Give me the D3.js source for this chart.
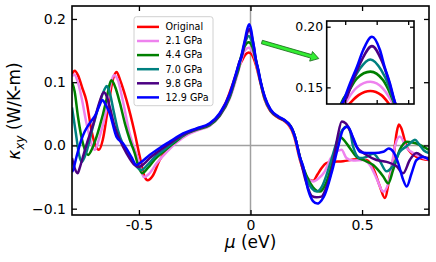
<!DOCTYPE html>
<html>
<head>
<meta charset="utf-8">
<script src="https://cdn.jsdelivr.net/npm/d3@7"></script>
<style>
  body { margin: 0; background: #fff; }
  svg { display: block; font-family: "DejaVu Sans", sans-serif; }
</style>
</head>
<body>
<svg width="436" height="262"></svg>
<script>
// series: [mu (eV), kappa_xy (W/K-m)]
var original = [[-0.800,0.112],[-0.788,0.118],[-0.772,0.110],[-0.755,0.092],[-0.735,0.070],[-0.713,0.024],[-0.694,-0.001],[-0.679,-0.007],[-0.662,0.009],[-0.640,0.056],[-0.617,0.104],[-0.600,0.116],[-0.585,0.104],[-0.556,0.072],[-0.519,0.020],[-0.496,-0.018],[-0.474,-0.050],[-0.461,-0.055],[-0.438,-0.048],[-0.407,-0.023],[-0.362,-0.003],[-0.317,0.012],[-0.272,0.021],[-0.220,0.027],[-0.190,0.031],[-0.152,0.043],[-0.108,0.070],[-0.078,0.099],[-0.050,0.126],[-0.034,0.137],[-0.023,0.1436],[-0.008,0.147],[0.006,0.1436],[0.015,0.137],[0.030,0.120],[0.045,0.098],[0.064,0.072],[0.090,0.054],[0.124,0.044],[0.150,0.039],[0.169,0.033],[0.185,0.024],[0.199,0.010],[0.221,-0.022],[0.251,-0.050],[0.267,-0.055],[0.281,-0.056],[0.300,-0.046],[0.318,-0.036],[0.340,-0.028],[0.363,-0.026],[0.415,-0.025],[0.475,-0.022],[0.520,-0.023],[0.550,-0.036],[0.580,-0.065],[0.602,-0.083],[0.625,-0.047],[0.639,-0.023],[0.655,0.020],[0.665,0.033],[0.675,0.028],[0.700,-0.002],[0.744,-0.018],[0.800,-0.023]];
var p21 = [[-0.800,0.109],[-0.790,0.112],[-0.774,0.100],[-0.758,0.077],[-0.735,0.035],[-0.713,0.003],[-0.698,-0.007],[-0.676,0.014],[-0.646,0.056],[-0.626,0.098],[-0.612,0.111],[-0.595,0.104],[-0.573,0.072],[-0.541,0.018],[-0.505,-0.020],[-0.478,-0.050],[-0.455,-0.045],[-0.420,-0.028],[-0.375,-0.010],[-0.330,0.005],[-0.281,0.017],[-0.227,0.025],[-0.183,0.031],[-0.138,0.046],[-0.093,0.074],[-0.065,0.104],[-0.047,0.127],[-0.036,0.141],[-0.025,0.150],[-0.008,0.1546],[0.008,0.149],[0.018,0.1395],[0.032,0.120],[0.045,0.099],[0.064,0.073],[0.090,0.055],[0.124,0.045],[0.150,0.040],[0.169,0.034],[0.185,0.026],[0.199,0.012],[0.221,-0.020],[0.251,-0.049],[0.281,-0.057],[0.306,-0.052],[0.333,-0.041],[0.360,-0.020],[0.378,-0.012],[0.408,-0.007],[0.430,-0.020],[0.460,-0.024],[0.505,-0.023],[0.535,-0.031],[0.565,-0.052],[0.595,-0.073],[0.625,-0.049],[0.647,-0.002],[0.669,0.014],[0.700,-0.004],[0.729,-0.012],[0.774,-0.020],[0.800,-0.022]];
var p44 = [[-0.800,0.100],[-0.788,0.085],[-0.773,0.045],[-0.751,0.003],[-0.728,-0.015],[-0.706,-0.002],[-0.676,0.030],[-0.646,0.072],[-0.631,0.097],[-0.623,0.103],[-0.606,0.092],[-0.586,0.068],[-0.563,0.035],[-0.541,0.009],[-0.519,-0.012],[-0.505,-0.030],[-0.486,-0.044],[-0.461,-0.036],[-0.429,-0.022],[-0.384,-0.008],[-0.339,0.005],[-0.294,0.017],[-0.241,0.025],[-0.183,0.032],[-0.138,0.047],[-0.093,0.076],[-0.065,0.108],[-0.050,0.126],[-0.045,0.137],[-0.036,0.1464],[-0.025,0.1574],[-0.008,0.163],[0.008,0.156],[0.017,0.145],[0.022,0.137],[0.035,0.118],[0.045,0.100],[0.064,0.074],[0.090,0.055],[0.124,0.045],[0.150,0.040],[0.169,0.035],[0.185,0.027],[0.199,0.014],[0.221,-0.018],[0.251,-0.048],[0.280,-0.066],[0.311,-0.073],[0.338,-0.060],[0.369,-0.025],[0.400,0.014],[0.415,0.010],[0.445,-0.004],[0.475,-0.018],[0.505,-0.023],[0.550,-0.031],[0.595,-0.049],[0.617,-0.060],[0.639,-0.039],[0.669,-0.007],[0.700,0.006],[0.744,0.003],[0.774,-0.002],[0.800,-0.007]];
var p70 = [[-0.800,0.060],[-0.783,0.020],[-0.768,-0.015],[-0.757,-0.026],[-0.735,-0.010],[-0.706,0.030],[-0.676,0.067],[-0.655,0.088],[-0.644,0.094],[-0.630,0.082],[-0.612,0.052],[-0.594,0.024],[-0.571,0.001],[-0.541,-0.018],[-0.514,-0.032],[-0.489,-0.039],[-0.465,-0.032],[-0.429,-0.018],[-0.384,-0.006],[-0.339,0.007],[-0.294,0.018],[-0.241,0.026],[-0.183,0.033],[-0.138,0.048],[-0.093,0.078],[-0.065,0.110],[-0.050,0.130],[-0.040,0.141],[-0.032,0.153],[-0.021,0.1657],[-0.008,0.173],[0.006,0.164],[0.015,0.152],[0.021,0.140],[0.033,0.120],[0.045,0.101],[0.064,0.075],[0.090,0.055],[0.124,0.045],[0.150,0.040],[0.169,0.035],[0.185,0.027],[0.199,0.014],[0.221,-0.018],[0.248,-0.050],[0.275,-0.068],[0.297,-0.073],[0.320,-0.065],[0.356,-0.030],[0.391,0.010],[0.430,0.030],[0.445,0.024],[0.460,-0.002],[0.490,-0.020],[0.520,-0.018],[0.550,-0.013],[0.580,-0.025],[0.610,-0.041],[0.638,-0.032],[0.669,-0.010],[0.701,-0.001],[0.723,0.006],[0.737,0.009],[0.755,0.002],[0.777,-0.008],[0.800,-0.012]];
var p98 = [[-0.800,-0.020],[-0.788,-0.036],[-0.775,-0.044],[-0.765,-0.035],[-0.751,-0.018],[-0.728,0.009],[-0.706,0.032],[-0.680,0.065],[-0.657,0.084],[-0.645,0.078],[-0.631,0.061],[-0.609,0.030],[-0.586,0.009],[-0.556,-0.012],[-0.519,-0.031],[-0.501,-0.034],[-0.474,-0.028],[-0.452,-0.020],[-0.407,-0.008],[-0.362,0.003],[-0.302,0.017],[-0.242,0.026],[-0.183,0.034],[-0.138,0.049],[-0.093,0.080],[-0.065,0.112],[-0.050,0.132],[-0.038,0.142],[-0.030,0.156],[-0.019,0.1725],[-0.006,0.184],[0.006,0.1725],[0.015,0.156],[0.021,0.142],[0.033,0.121],[0.045,0.101],[0.064,0.076],[0.090,0.056],[0.124,0.045],[0.150,0.040],[0.169,0.035],[0.185,0.027],[0.199,0.014],[0.221,-0.018],[0.251,-0.060],[0.275,-0.080],[0.296,-0.082],[0.318,-0.081],[0.338,-0.068],[0.369,-0.030],[0.391,0.015],[0.409,0.038],[0.427,0.035],[0.445,0.024],[0.475,-0.002],[0.520,-0.015],[0.565,-0.023],[0.610,-0.026],[0.655,-0.033],[0.684,-0.044],[0.714,-0.023],[0.744,-0.012],[0.774,-0.018],[0.800,-0.020]];
var p129 = [[-0.800,-0.042],[-0.795,-0.039],[-0.780,-0.018],[-0.758,0.009],[-0.743,0.022],[-0.721,0.035],[-0.691,0.051],[-0.675,0.065],[-0.664,0.072],[-0.650,0.065],[-0.631,0.051],[-0.601,0.014],[-0.571,0.003],[-0.534,-0.018],[-0.511,-0.031],[-0.496,-0.028],[-0.452,-0.015],[-0.407,-0.004],[-0.362,0.006],[-0.302,0.019],[-0.242,0.027],[-0.183,0.035],[-0.138,0.051],[-0.093,0.082],[-0.065,0.114],[-0.050,0.131],[-0.042,0.1395],[-0.034,0.153],[-0.025,0.167],[-0.017,0.181],[-0.006,0.1917],[0.004,0.181],[0.010,0.167],[0.017,0.153],[0.023,0.138],[0.035,0.120],[0.045,0.102],[0.064,0.077],[0.090,0.057],[0.124,0.046],[0.150,0.041],[0.169,0.035],[0.185,0.027],[0.199,0.014],[0.221,-0.018],[0.236,-0.033],[0.258,-0.070],[0.280,-0.088],[0.300,-0.092],[0.318,-0.087],[0.333,-0.078],[0.363,-0.044],[0.393,-0.002],[0.415,0.025],[0.436,0.030],[0.460,0.012],[0.490,-0.010],[0.520,-0.012],[0.557,-0.012],[0.595,-0.010],[0.620,-0.005],[0.640,-0.010],[0.662,-0.028],[0.684,-0.054],[0.700,-0.065],[0.722,-0.044],[0.744,-0.023],[0.774,-0.018],[0.800,-0.023]];

var seriesNames = ["Original", "2.1 GPa", "4.4 GPa", "7.0 GPa", "9.8 GPa", "12.9 GPa"];
var seriesData = [original, p21, p44, p70, p98, p129];
var seriesColors = ["red", "violet", "green", "teal", "indigo", "blue"];

var xTicks = [-0.5, 0, 0.5];
var xTickLabels = ["-0.5", "0", "0.5"];
var yTicks = [-0.1, 0, 0.1, 0.2];
var yTickLabels = ["\u22120.1", "0.0", "0.1", "0.2"];
var insetXTicks = [-0.04, 0, 0.04];
var insetYTicks = [0.15, 0.20];
var insetYTickLabels = ["0.15", "0.20"];
// arrow from main peak to inset, in data units
var arrowFrom = [0.051, 0.1635];
var arrowTo = [0.306, 0.1374];

var margin = {top: 6, right: 7, bottom: 47, left: 72};
var width = 436 - margin.left - margin.right;
var height = 262 - margin.top - margin.bottom;

var svg = d3.select('svg');
svg.append('rect').attr('width', 436).attr('height', 262).attr('fill', '#fff');

var xScale = d3.scaleLinear().domain([-0.8, 0.8]).range([0, width]);
var yScale = d3.scaleLinear().domain([-0.11, 0.2205]).range([height, 0]);

var defs = svg.append('defs');
defs.append('clipPath').attr('id', 'clipMain')
  .append('rect').attr('width', width).attr('height', height);

var g = svg.append('g')
  .attr('transform', 'translate(' + margin.left + ',' + margin.top + ')');

// zero lines
g.append('line')
  .attr('x1', xScale(0)).attr('x2', xScale(0))
  .attr('y1', 0).attr('y2', height)
  .attr('stroke', '#a0a0a0').attr('stroke-width', 1.5);
g.append('line')
  .attr('x1', 0).attr('x2', width)
  .attr('y1', yScale(0)).attr('y2', yScale(0))
  .attr('stroke', '#a0a0a0').attr('stroke-width', 1.5);

var line = d3.line()
  .x(d => xScale(d[0]))
  .y(d => yScale(d[1]))
  .curve(d3.curveMonotoneX);

g.append('g').attr('clip-path', 'url(#clipMain)')
  .selectAll('path')
  .data(seriesData)
  .enter()
  .append('path')
  .attr('d', line)
  .attr('fill', 'none')
  .attr('stroke', (d, i) => seriesColors[i])
  .attr('stroke-width', 2.5)
  .attr('stroke-linejoin', 'round');

// axes, ticks pointing in
var xAxis = d3.axisBottom(xScale).tickValues(xTicks)
  .tickFormat((d, i) => xTickLabels[i]).tickSizeInner(-5).tickSizeOuter(0).tickPadding(5);
var yAxis = d3.axisLeft(yScale).tickValues(yTicks)
  .tickFormat((d, i) => yTickLabels[i]).tickSizeInner(-5).tickSizeOuter(0).tickPadding(6);

g.append('g').attr('class', 'xAxis')
  .attr('transform', 'translate(0,' + height + ')').call(xAxis);
g.append('g').attr('class', 'yAxis').call(yAxis);
g.append('g').attr('transform', 'translate(0,0)')
  .call(d3.axisTop(xScale).tickValues(xTicks).tickFormat('').tickSizeInner(-5).tickSizeOuter(0));
g.append('g').attr('transform', 'translate(' + width + ',0)')
  .call(d3.axisRight(yScale).tickValues(yTicks).tickFormat('').tickSizeInner(-5).tickSizeOuter(0));

g.selectAll('.domain').remove();
g.selectAll('.tick line').attr('stroke', '#000').attr('stroke-width', 1.3);
g.selectAll('.xAxis text, .yAxis text')
  .attr('font-size', 14).attr('font-family', 'DejaVu Sans').attr('fill', '#000');

g.append('rect')
  .attr('width', width).attr('height', height)
  .attr('fill', 'none').attr('stroke', '#000').attr('stroke-width', 1.6);

// axis labels
var xl = svg.append('text')
  .attr('x', margin.left + xScale(0)).attr('y', 248)
  .attr('text-anchor', 'middle').attr('font-size', 17);
xl.append('tspan').attr('font-style', 'italic').text('\u03bc');
xl.append('tspan').text(' (eV)');

var yl = svg.append('text')
  .attr('transform', 'translate(20,' + (margin.top + 105) + ') rotate(-90)')
  .attr('text-anchor', 'middle').attr('font-size', 17);
yl.append('tspan').attr('font-style', 'italic').text('\u03ba');
yl.append('tspan').attr('font-style', 'italic').attr('font-size', 12).attr('dy', 4).text('xy');
yl.append('tspan').attr('dy', -4).text(' (W/K-m)');

// legend
var legend = g.append('g').attr('transform', 'translate(62,10.7)');
legend.append('rect')
  .attr('width', 79).attr('height', 89).attr('rx', 2.5)
  .attr('fill', '#fff').attr('fill-opacity', 0.85)
  .attr('stroke', '#d0d0d0').attr('stroke-width', 1);
var items = legend.selectAll('.item').data(seriesNames).enter()
  .append('g').attr('class', 'item')
  .attr('transform', (d, i) => 'translate(0,' + (10.2 + i * 14.1) + ')');
items.append('line')
  .attr('x1', 3).attr('x2', 25)
  .attr('stroke', (d, i) => seriesColors[i]).attr('stroke-width', 2.5);
items.append('text')
  .attr('x', 31.5).attr('dy', '0.35em')
  .attr('font-size', 9.6).text(d => d);

// arrow
var ax0 = xScale(arrowFrom[0]), ay0 = yScale(arrowFrom[1]);
var ax1 = xScale(arrowTo[0]), ay1 = yScale(arrowTo[1]);
var ang = Math.atan2(ay1 - ay0, ax1 - ax0);
var len = Math.hypot(ax1 - ax0, ay1 - ay0);
var sw = 1.8, hw = 5, hl = 8;
var arrowPts = [[0, -sw], [len - hl, -sw], [len - hl, -hw], [len, 0], [len - hl, hw], [len - hl, sw], [0, sw]];
g.append('polygon')
  .attr('points', arrowPts.map(p => p.join(',')).join(' '))
  .attr('transform', 'translate(' + ax0 + ',' + ay0 + ') rotate(' + (ang * 180 / Math.PI) + ')')
  .attr('fill', '#33ee33').attr('stroke', '#1f6f1f').attr('stroke-width', 0.8);

// inset
var inset = {left: 326.7, top: 21, right: 414, bottom: 104};
var xi = d3.scaleLinear().domain([-0.0635, 0.0474]).range([0, inset.right - inset.left]);
var yi = d3.scaleLinear().domain([0.1363, 0.2047]).range([inset.bottom - inset.top, 0]);
var iw = inset.right - inset.left, ih = inset.bottom - inset.top;

defs.append('clipPath').attr('id', 'clipInset')
  .append('rect').attr('width', iw).attr('height', ih);

var gi = svg.append('g').attr('transform', 'translate(' + inset.left + ',' + inset.top + ')');
gi.append('rect').attr('width', iw).attr('height', ih).attr('fill', '#fff');

var lineInset = d3.line()
  .x(d => xi(d[0]))
  .y(d => yi(d[1]))
  .curve(d3.curveMonotoneX);

gi.append('g').attr('clip-path', 'url(#clipInset)')
  .selectAll('path')
  .data(seriesData)
  .enter()
  .append('path')
  .attr('d', lineInset)
  .attr('fill', 'none')
  .attr('stroke', (d, i) => seriesColors[i])
  .attr('stroke-width', 2.6);

gi.append('g').attr('transform', 'translate(0,' + ih + ')')
  .call(d3.axisBottom(xi).tickValues(insetXTicks).tickFormat('').tickSizeInner(-4).tickSizeOuter(0));
gi.append('g')
  .call(d3.axisTop(xi).tickValues(insetXTicks).tickFormat('').tickSizeInner(-4).tickSizeOuter(0));
gi.append('g').attr('class', 'iy')
  .call(d3.axisLeft(yi).tickValues(insetYTicks).tickFormat((d, i) => insetYTickLabels[i])
    .tickSizeInner(-4).tickSizeOuter(0).tickPadding(3.5));
gi.append('g').attr('transform', 'translate(' + iw + ',0)')
  .call(d3.axisRight(yi).tickValues(insetYTicks).tickFormat('').tickSizeInner(-4).tickSizeOuter(0));
gi.selectAll('.domain').remove();
gi.selectAll('.tick line').attr('stroke', '#000').attr('stroke-width', 1.3);
gi.selectAll('.iy text').attr('font-size', 12.5).attr('font-family', 'DejaVu Sans').attr('fill', '#000');
gi.append('rect').attr('width', iw).attr('height', ih)
  .attr('fill', 'none').attr('stroke', '#000').attr('stroke-width', 1.6);
</script>
</body>
</html>
